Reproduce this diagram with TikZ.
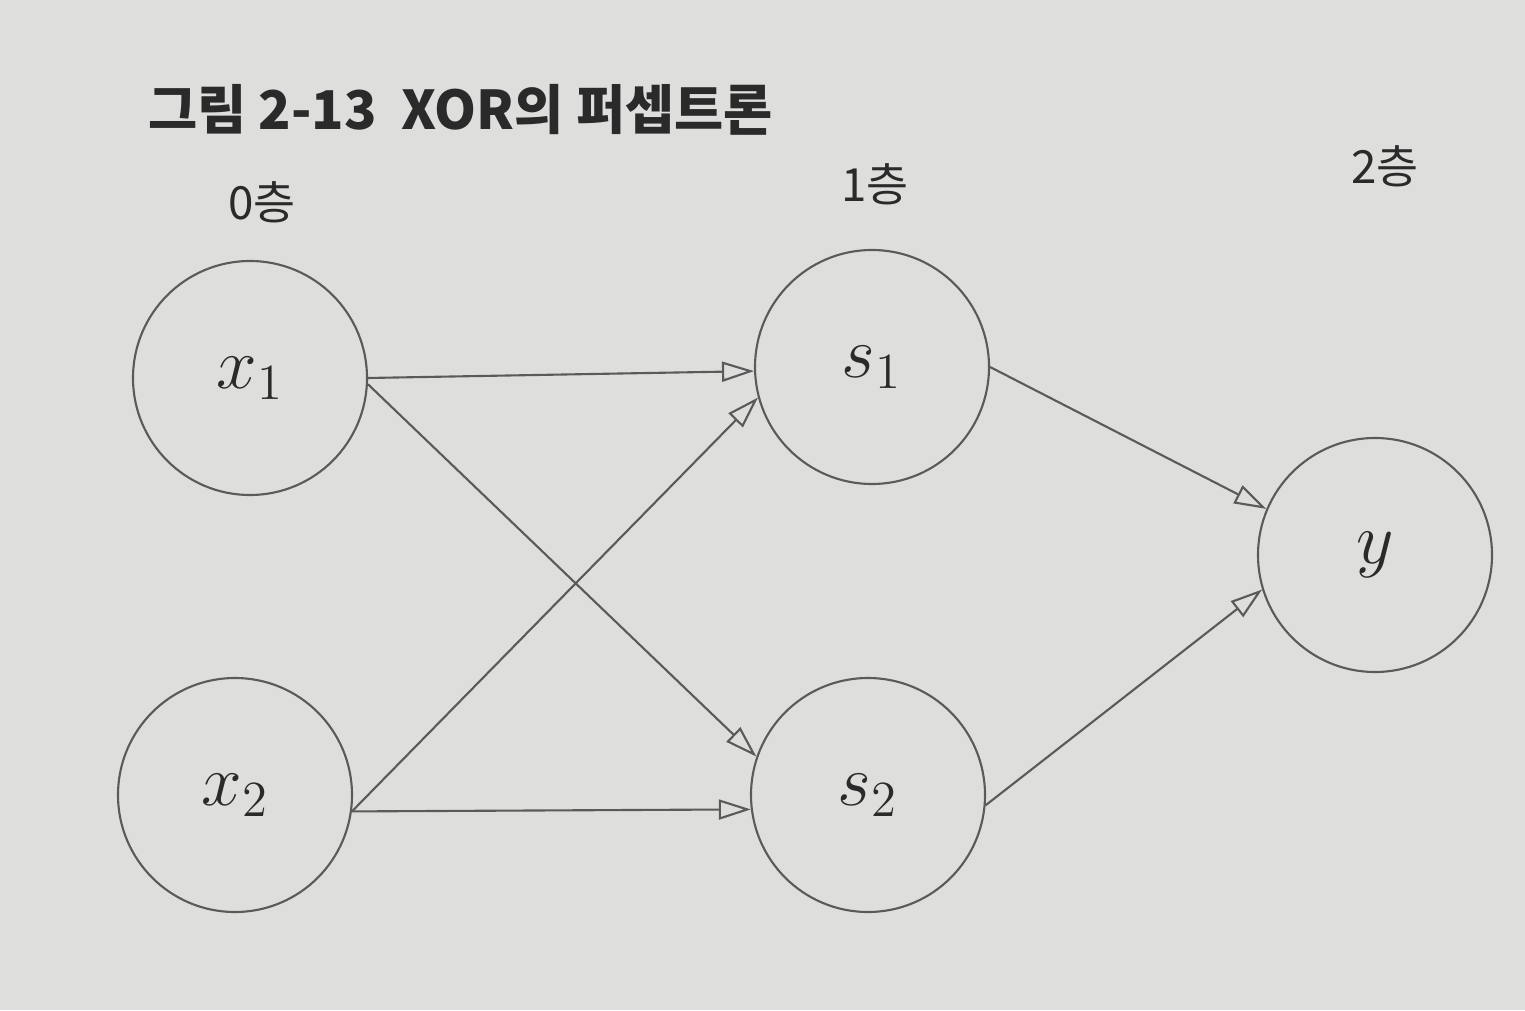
\documentclass[tikz,border=0pt]{standalone}
\usepackage{fontspec}
\newfontfamily\cjk{Noto Sans CJK KR}
\usetikzlibrary{arrows.meta}
\definecolor{paper}{HTML}{DEDEDC}
\definecolor{ink}{HTML}{5A5A5A}
\definecolor{textink}{HTML}{2A2A2A}

\begin{document}
\begin{tikzpicture}[
  unit/.style={circle,draw=ink,line width=0.6pt,minimum size=2.34cm,inner sep=0pt,
    font=\fontsize{20}{24}\selectfont,text=textink},
  conn/.style={-{Triangle[open,length=3.2mm,width=2mm]},draw=ink,line width=0.6pt},
  layer/.style={font=\cjk\fontsize{13}{15}\selectfont,text=textink}]
\useasboundingbox[fill=paper] (0,0) rectangle (15.25,10.10);
\node[anchor=base west,font=\cjk\bfseries\fontsize{15.2}{18}\selectfont,text=textink]
  (title) at (1.36,8.80) {그림 2-13\ \ XOR의 퍼셉트론};
\node[layer] (l0) at (2.62,8.08) {0층};
\node[layer] (l1) at (8.75,8.26) {1층};
\node[layer] (l2) at (13.85,8.44) {2층};
% units
\node[unit] (x1) at (2.50,6.32) {$x_{1}$};
\node[unit] (x2) at (2.35,2.15) {$x_{2}$};
\node[unit] (s1) at (8.72,6.43) {$s_{1}$};
\node[unit] (s2) at (8.68,2.15) {$s_{2}$};
\node[unit] (y) at (13.75,4.55) {$y$};
% connections
\draw[conn] (x1.0) -- (s1.182);
\draw[conn] (x1.357) -- (s2.161);
\draw[conn] (x2.352) -- (s1.195);
\draw[conn] (x2.352) -- (s2.187);
\draw[conn] (s1.0) -- (y.157);
\draw[conn] (s2.355) -- (y.197);
\end{tikzpicture}
\end{document}
